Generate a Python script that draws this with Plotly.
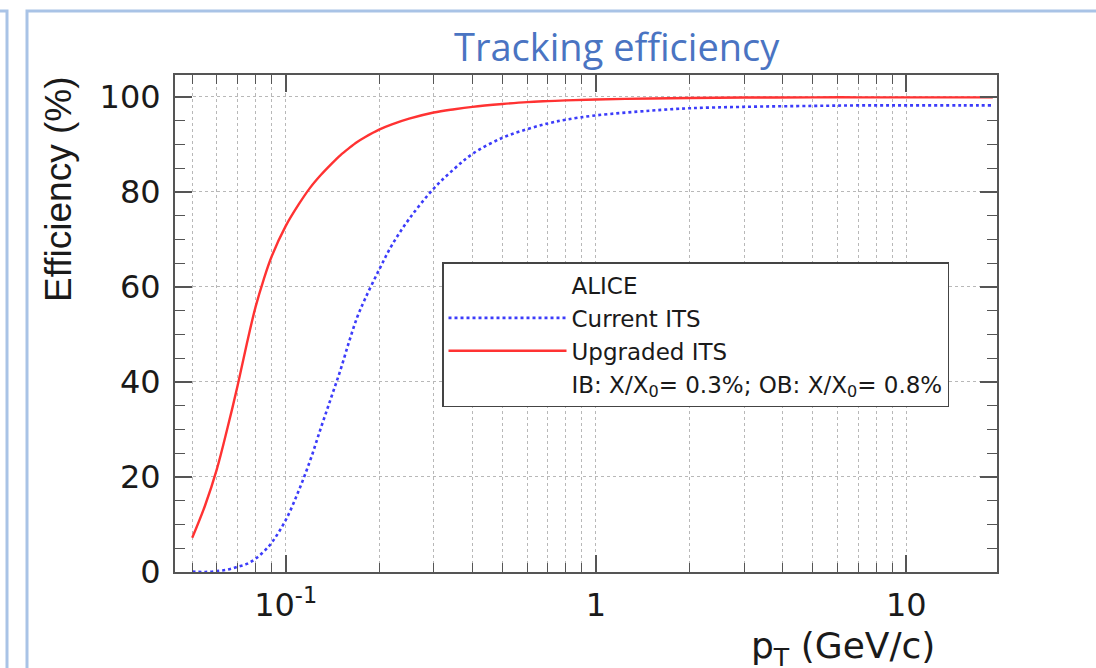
import math
import plotly.graph_objects as go

# ---------------- data ----------------
pt = [0.05, 0.055, 0.06, 0.065, 0.07, 0.075, 0.08, 0.085, 0.09, 0.1,
      0.11, 0.12, 0.13, 0.14, 0.15, 0.16, 0.17, 0.18, 0.2, 0.22,
      0.25, 0.3, 0.35, 0.4, 0.5, 0.6, 0.7, 0.8, 1.0, 1.5,
      2.0, 3.0, 5.0, 7.0, 10.0, 15.0, 19.0]

eff_current = [0.1, 0.0, 0.2, 0.5, 1.1, 1.7, 2.8, 4.3, 6.1, 10.9,
               17.0, 23.5, 30.4, 36.6, 42.4, 48.4, 53.6, 57.4, 63.6, 68.8,
               74.3, 80.7, 84.9, 88.0, 91.4, 93.2, 94.4, 95.2, 96.1, 97.1,
               97.6, 97.9, 98.1, 98.2, 98.2, 98.2, 98.2]

eff_upgraded = [7.2, 14.0, 21.6, 30.4, 39.2, 48.1, 55.8, 61.6, 66.3, 72.8,
                77.3, 80.9, 83.6, 85.8, 87.7, 89.2, 90.5, 91.5, 93.1, 94.2,
                95.4, 96.7, 97.4, 97.9, 98.5, 98.9, 99.1, 99.25, 99.45, 99.65,
                99.75, 99.85, 99.9, 99.9, 99.9, 99.9, 99.9]

x_major_ticks = [0.1, 1, 10]
x_major_labels = ["10<sup>-1</sup>", "1", "10"]
x_minor_ticks = [0.05, 0.06, 0.07, 0.08, 0.09,
                 0.2, 0.3, 0.4, 0.5, 0.6, 0.7, 0.8, 0.9,
                 2, 3, 4, 5, 6, 7, 8, 9, 20]
y_ticks = [0, 20, 40, 60, 80, 100]

legend_names = ["ALICE", "Current ITS", "Upgraded ITS",
                "IB: X/X<sub>0</sub>= 0.3%; OB: X/X<sub>0</sub>= 0.8%"]

# ---------------- layout helpers (pixel -> paper) ----------------
W, H = 1096, 668
L, R, T, B = 175, 997, 75, 572


def px(x):
    return (x - L) / (R - L)


def py(y):
    return (B - y) / (B - T)


AX = "#555555"
GRID = "#b8b8b8"
TXT = "#1a1a1a"
ROOTFONT = "DejaVu Sans"

fig = go.Figure()
fig.add_trace(go.Scatter(x=[None], y=[None], mode="lines", name=legend_names[0],
                         line=dict(color="rgba(0,0,0,0)", width=0), legendgroup="g1"))
fig.add_trace(go.Scatter(x=pt, y=eff_current, mode="lines", name=legend_names[1],
                         line=dict(color="rgb(60,60,250)", width=2.6, dash="3px,3px",
                                   shape="spline", smoothing=1.0),
                         legendgroup="g2"))
fig.add_trace(go.Scatter(x=pt, y=eff_upgraded, mode="lines", name=legend_names[2],
                         line=dict(color="rgb(255,50,50)", width=2.4,
                                   shape="spline", smoothing=1.0),
                         legendgroup="g3"))
fig.add_trace(go.Scatter(x=[None], y=[None], mode="lines", name=legend_names[3],
                         line=dict(color="rgba(0,0,0,0)", width=0), legendgroup="g4"))

fig.update_xaxes(
    type="log",
    range=[math.log10(0.044), math.log10(19.6)],
    tickmode="array", tickvals=x_major_ticks, ticktext=x_major_labels,
    ticks="inside", ticklen=17, tickwidth=1.5, tickcolor=AX,
    showgrid=True, gridcolor=GRID, griddash="dot", gridwidth=1,
    minor=dict(tickmode="array", tickvals=x_minor_ticks, ticks="inside", ticklen=9,
               tickwidth=1.2, tickcolor=AX, showgrid=True, gridcolor=GRID,
               griddash="dot", gridwidth=1),
    showline=True, linecolor=AX, linewidth=2, mirror="ticks",
    tickfont=dict(family=ROOTFONT, size=32, color=TXT),
    ticklabelstandoff=4,
    zeroline=False,
)
fig.update_yaxes(
    range=[0, 104.6],
    tickmode="array", tickvals=y_ticks,
    ticks="inside", ticklen=17, tickwidth=1.5, tickcolor=AX,
    showgrid=True, gridcolor=GRID, griddash="dot", gridwidth=1,
    minor=dict(dtick=5, ticks="inside", ticklen=10, tickwidth=1.2, tickcolor=AX,
               showgrid=False),
    showline=True, linecolor=AX, linewidth=2, mirror="ticks",
    tickfont=dict(family=ROOTFONT, size=32, color=TXT),
    ticklabelstandoff=6,
    zeroline=False,
)

fig.update_layout(
    width=W, height=H,
    margin=dict(l=L, r=W - R, t=T, b=H - B, pad=0),
    paper_bgcolor="white", plot_bgcolor="white",
    showlegend=True,
    legend=dict(x=px(442), y=py(262), xanchor="left", yanchor="top",
                bgcolor="white", bordercolor="#444444", borderwidth=1.5,
                font=dict(family=ROOTFONT, size=23, color=TXT),
                itemwidth=118, traceorder="grouped", tracegroupgap=0,
                itemclick=False),
    annotations=[
        dict(text="Tracking efficiency", x=px(617), y=py(46), xref="paper", yref="paper",
             xanchor="center", yanchor="middle", showarrow=False,
             font=dict(family="Open Sans", size=38, color="#4a74c2")),
        dict(text="Efficiency (%)", x=px(58), y=py(74), xref="paper", yref="paper",
             xanchor="center", yanchor="top", textangle=-90, showarrow=False,
             font=dict(family="Liberation Sans", size=37, color=TXT)),
        dict(text="p<sub>T</sub> (GeV/c)", x=px(937), y=py(648), xref="paper", yref="paper",
             xanchor="right", yanchor="middle", showarrow=False,
             font=dict(family=ROOTFONT, size=36, color=TXT)),
    ],
    shapes=[
        dict(type="path", xref="paper", yref="paper",
             path=f"M {px(-5)},{py(11)} L {px(7)},{py(11)} L {px(7)},{py(700)}",
             line=dict(color="#a9c3e6", width=3)),
        dict(type="path", xref="paper", yref="paper",
             path=f"M {px(27)},{py(700)} L {px(27)},{py(11)} L {px(1110)},{py(11)}",
             line=dict(color="#a9c3e6", width=3)),
    ],
)

fig.write_html("out.html")
